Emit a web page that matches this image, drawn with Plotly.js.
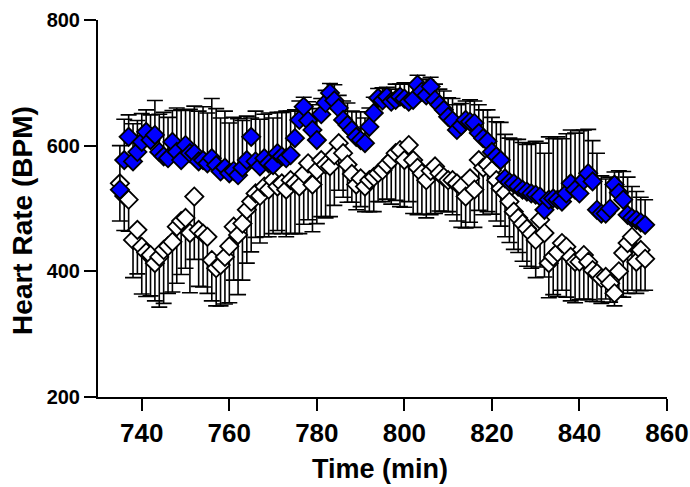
<!DOCTYPE html>
<html>
<head>
<meta charset="utf-8">
<script src="https://cdn.plot.ly/plotly-3.0.1.min.js"></script>
<style>html,body{margin:0;padding:0;background:#fff}#chart{width:690px;height:487px}</style>
</head>
<body>
<div id="chart"></div>
<script>
// Time points (min)
const timeMin = [];
for (let t = 735; t <= 855; t++) timeMin.push(t);

// Blue (filled) series, heart rate (BPM)
const blueHR = [
  530, 577, 614, 575, 590, 606, 622, 609, 617, 590, 583,
  580, 606, 590, 577, 601, 588, 588, 575, 577, 572, 580,
  569, 559, 565, 556, 560, 553, 565, 577, 614, 575, 567,
  580, 572, 569, 588, 583, 580, 585, 612, 641, 662, 640,
  625, 609, 650, 668, 684, 672, 660, 641, 633, 625, 614,
  609, 604, 630, 652, 676, 672, 678, 670, 673, 678, 675,
  670, 673, 697, 686, 680, 694, 673, 665, 657, 646, 640,
  625, 632, 641, 638, 636, 620, 612, 607, 590, 583, 577,
  548, 542, 540, 535, 530, 527, 524, 522, 519, 498, 514,
  516, 514, 511, 524, 540, 530, 524, 545, 556, 543, 498,
  492, 492, 500, 538, 525, 514, 490, 485, 482, 478, 474
];
// Blue error (upper side only)
const blueErr = [
  70, 65, 35, 60, 50, 45, 35, 40, 55, 60, 70,
  65, 50, 70, 80, 55, 70, 75, 80, 85, 80, 95,
  90, 85, 90, 80, 85, 90, 75, 70, 30, 80, 75,
  70, 80, 75, 65, 70, 75, 70, 45, 30, 15, 30,
  40, 50, 25, 20, 15, 25, 20, 30, 35, 30, 40,
  45, 40, 30, 25, 15, 20, 15, 20, 25, 20, 25,
  30, 25, 15, 20, 25, 15, 25, 25, 30, 30, 35,
  40, 35, 30, 35, 35, 45, 45, 50, 55, 55, 60,
  70, 70, 70, 75, 75, 75, 80, 85, 85, 90, 100,
  95, 100, 100, 95, 85, 90, 100, 80, 70, 65, 90,
  60, 55, 50, 20, 35, 45, 60, 50, 45, 40, 40
];

// White (open) series, heart rate (BPM)
const whiteHR = [
  540, 520, 514, 450, 466, 439, 430, 426, 413, 423, 434,
  440, 447, 471, 480, 485, 461, 519, 466, 460, 455, 418,
  405, 410, 423, 440, 471, 458, 476, 498, 511, 524, 520,
  535, 530, 545, 535, 540, 530, 545, 540, 535, 555, 572,
  538, 561, 577, 570, 567, 585, 604, 588, 570, 555, 538,
  548, 535, 545, 550, 556, 561, 570, 577, 588, 593, 577,
  601, 577, 565, 556, 545, 560, 567, 556, 550, 545, 545,
  540, 535, 519, 548, 530, 577, 565, 570, 561, 545, 532,
  525, 511, 495, 485, 476, 468, 460, 450, 482, 461, 413,
  423, 430, 445, 439, 423, 415, 415, 426, 415, 402, 397,
  389, 391, 381, 365, 400, 429, 445, 455, 415, 434, 420
];
// White error (lower side only)
const whiteErr = [
  60, 55, 50, 60, 70, 75, 70, 65, 60, 80, 85,
  75, 80, 90, 85, 80, 95, 100, 90, 85, 90, 65,
  60, 65, 75, 90, 85, 95, 90, 85, 80, 70, 75,
  80, 75, 85, 70, 80, 75, 85, 80, 75, 80, 90,
  75, 85, 90, 85, 80, 80, 75, 70, 60, 45, 40,
  45, 40, 50, 55, 45, 50, 55, 70, 75, 90, 75,
  90, 85, 75, 65, 60, 70, 75, 60, 55, 50, 55,
  60, 65, 50, 70, 60, 80, 75, 75, 70, 65, 60,
  70, 65, 60, 55, 60, 60, 55, 60, 75, 70, 55,
  60, 70, 75, 80, 70, 65, 60, 70, 60, 50, 45,
  40, 35, 30, 20, 40, 70, 80, 85, 50, 65, 50
];

const zeros = timeMin.map(() => 0);
const xTicks = [740, 760, 780, 800, 820, 840, 860];
const yTicks = [200, 400, 600, 800];

const FONT = 'Liberation Sans, Arial, Helvetica, sans-serif';

const whiteTrace = {
  x: timeMin, y: whiteHR, type: 'scatter', mode: 'markers',
  marker: {symbol: 'diamond', size: 14, color: '#ffffff', line: {color: '#000000', width: 1.8}},
  error_y: {type: 'data', symmetric: false, array: zeros, arrayminus: whiteErr,
            color: '#000000', thickness: 1.6, width: 8},
  hoverinfo: 'skip', showlegend: false
};
const blueTrace = {
  x: timeMin, y: blueHR, type: 'scatter', mode: 'markers',
  marker: {symbol: 'diamond', size: 14, color: '#0000ff', line: {color: '#000000', width: 1.8}},
  error_y: {type: 'data', symmetric: false, array: blueErr, arrayminus: zeros,
            color: '#000000', thickness: 1.6, width: 8},
  hoverinfo: 'skip', showlegend: false
};

const layout = {
  width: 690, height: 487,
  margin: {l: 98, r: 23, t: 20, b: 90, pad: 0},
  paper_bgcolor: '#ffffff', plot_bgcolor: '#ffffff',
  showlegend: false,
  xaxis: {
    range: [730, 860], tickvals: xTicks, ticktext: xTicks.map(String),
    showgrid: false, zeroline: false, showline: true, linecolor: '#000', linewidth: 2,
    ticks: 'outside', ticklen: 12, tickwidth: 2, tickcolor: '#000',
    tickfont: {family: FONT, size: 26, color: '#000', weight: 'bold'},
    title: {text: ''}, fixedrange: true
  },
  yaxis: {
    range: [200, 800], tickvals: yTicks, ticktext: yTicks.map(String),
    showgrid: false, zeroline: false, showline: true, linecolor: '#000', linewidth: 2,
    ticks: 'outside', ticklen: 12, tickwidth: 2, tickcolor: '#000',
    tickfont: {family: FONT, size: 20, color: '#000', weight: 'bold'},
    title: {text: ''}, fixedrange: true
  },
  annotations: [
    {text: 'Time (min)', xref: 'paper', yref: 'paper', x: 0.4956, y: -0.19,
     xanchor: 'center', yanchor: 'middle', showarrow: false,
     font: {family: FONT, size: 27, color: '#000', weight: 'bold'}},
    {text: 'Heart Rate (BPM)', xref: 'paper', yref: 'paper', x: -0.133, y: 0.468,
     xanchor: 'center', yanchor: 'middle', showarrow: false, textangle: -90,
     font: {family: FONT, size: 28, color: '#000', weight: 'bold'}}
  ]
};

Plotly.newPlot('chart', [whiteTrace, blueTrace], layout, {staticPlot: true, displayModeBar: false});
</script>
</body>
</html>
